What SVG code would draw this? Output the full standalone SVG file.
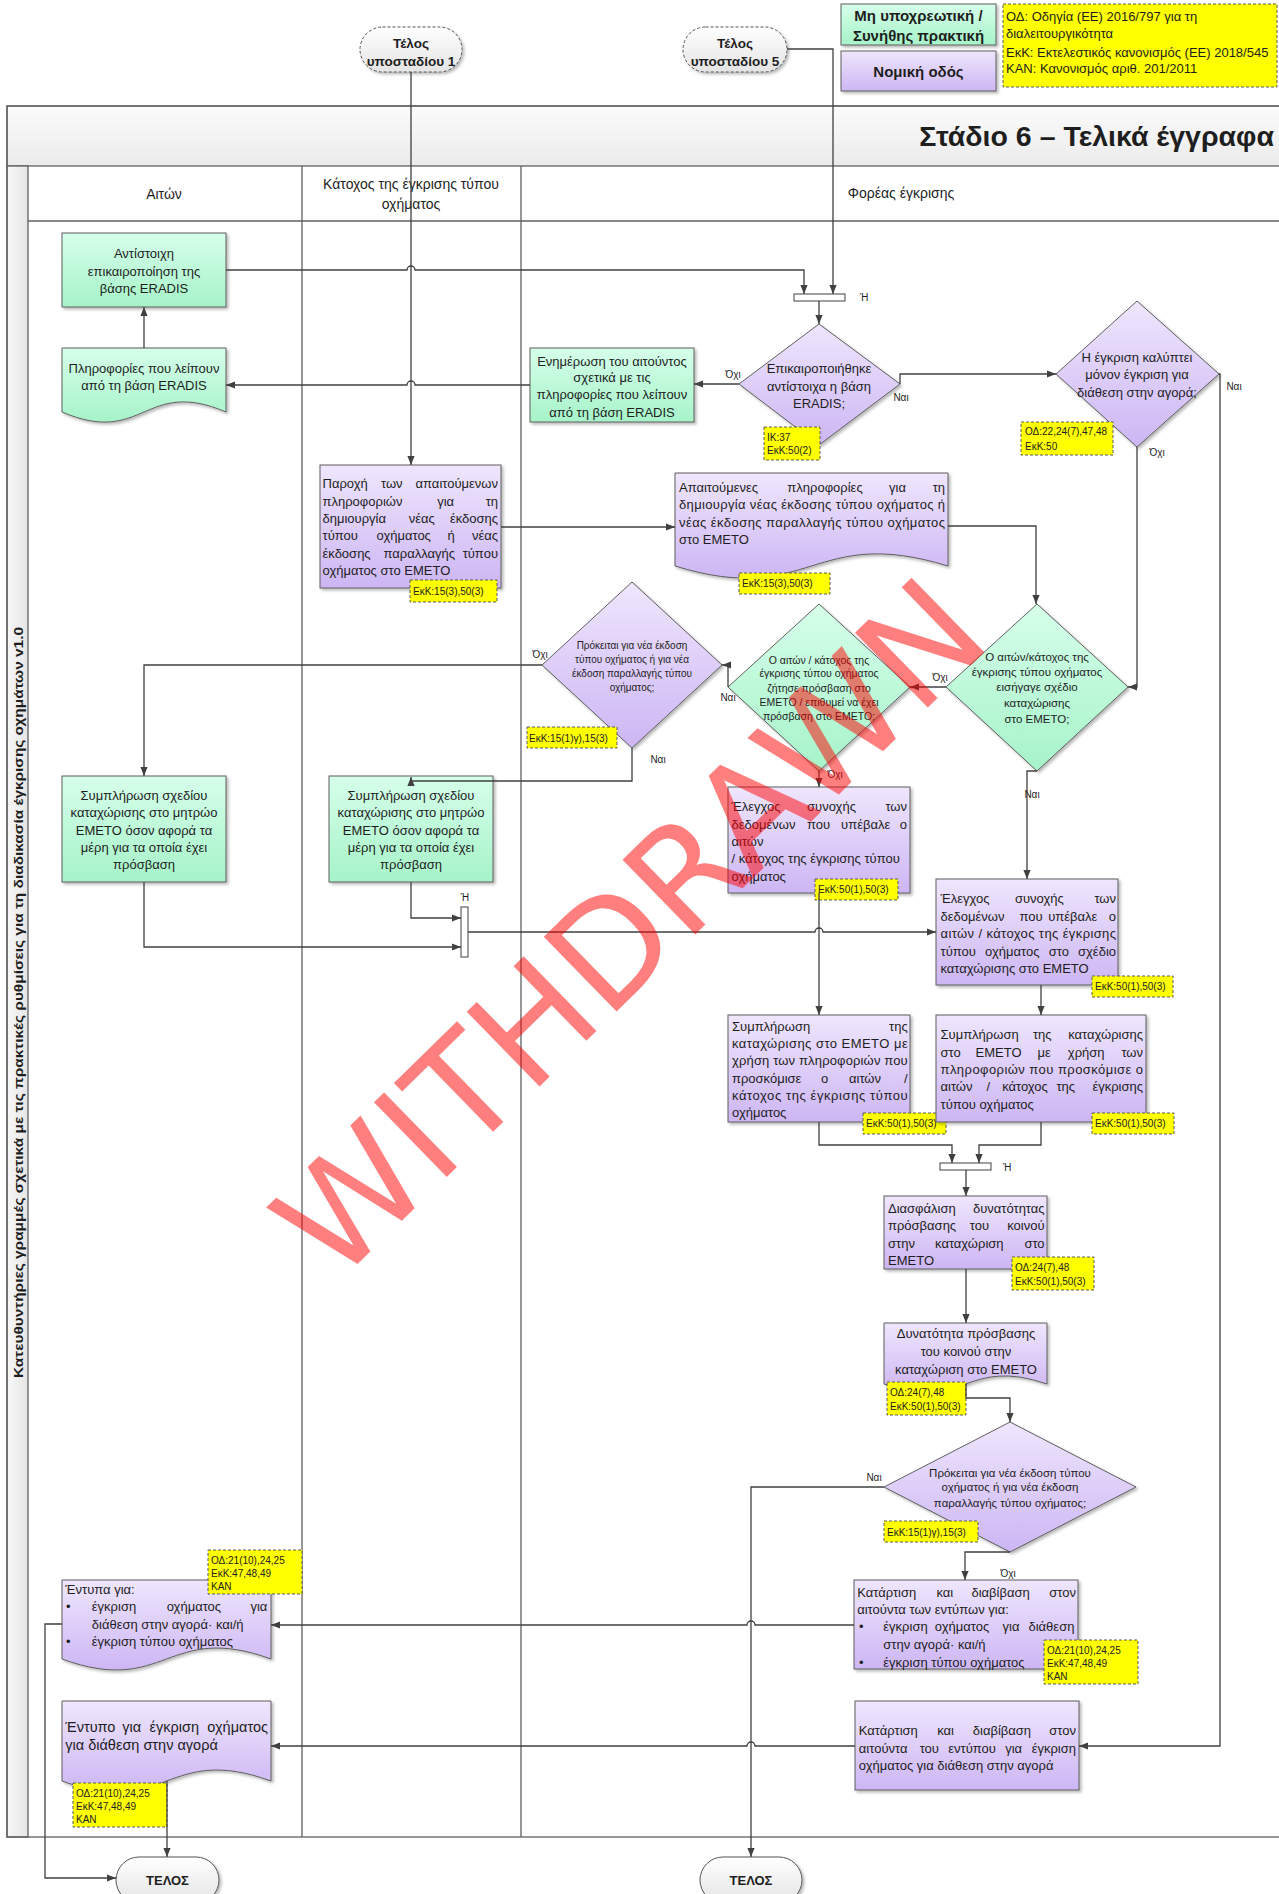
<svg xmlns="http://www.w3.org/2000/svg" width="1279" height="1894" viewBox="0 0 1279 1894">
<defs>
<style>
.t{font-family:"Liberation Sans",Arial,"DejaVu Sans",sans-serif;font-size:13px;fill:#1e1e1e;dominant-baseline:central}
.m{text-anchor:middle}
.e{text-anchor:end}
.b{font-weight:bold}
.s10{font-size:10px}
.s105{font-size:10.5px}
.s11{font-size:11.5px}
.s14{font-size:14px}
.tag rect{fill:#ffff00;stroke:#5a5a5a;stroke-width:1;stroke-dasharray:3 2}
.tag text{font-family:"Liberation Sans",Arial,sans-serif;font-size:10px;fill:#222;dominant-baseline:central}
.g{fill:url(#gg);stroke:#5f5f5f;stroke-width:1;filter:url(#sh)}
.p{fill:url(#gp);stroke:#5f5f5f;stroke-width:1;filter:url(#sh)}
.term{fill:url(#gt);stroke:#555;stroke-width:1;filter:url(#sh)}
.cn path{fill:none;stroke:#404040;stroke-width:1.3;marker-end:url(#ah)}
.lane{stroke:#606060;stroke-width:1.3;fill:none}
.bar{fill:#fff;stroke:#404040;stroke-width:1}
</style>
<linearGradient id="gg" x1="0" y1="0" x2="0" y2="1"><stop offset="0" stop-color="#d6ffea"/><stop offset="1" stop-color="#a6f3c9"/></linearGradient>
<linearGradient id="gp" x1="0" y1="0" x2="0" y2="1"><stop offset="0" stop-color="#efe6fd"/><stop offset="1" stop-color="#cdb6f4"/></linearGradient>
<linearGradient id="gt" x1="0" y1="0" x2="0" y2="1"><stop offset="0" stop-color="#ffffff"/><stop offset="1" stop-color="#e4e4e4"/></linearGradient>
<linearGradient id="gh" x1="0" y1="0" x2="0" y2="1"><stop offset="0" stop-color="#fbfbfb"/><stop offset="1" stop-color="#ebebeb"/></linearGradient>
<linearGradient id="gv" x1="0" y1="0" x2="1" y2="0"><stop offset="0" stop-color="#f7f7f7"/><stop offset="1" stop-color="#e6e6e6"/></linearGradient>
<filter id="sh" x="-10%" y="-10%" width="130%" height="130%"><feDropShadow dx="2" dy="2" stdDeviation="1.5" flood-color="#000" flood-opacity="0.28"/></filter>
<marker id="ah" viewBox="0 0 10 10" refX="10" refY="5" markerWidth="9" markerHeight="9" markerUnits="userSpaceOnUse" orient="auto"><path d="M0,1 L10,5 L0,9 z" fill="#404040"/></marker>
</defs>
<rect x="0" y="0" width="1279" height="1894" fill="#ffffff"/>

<!-- legend -->
<g id="legend">
<rect x="841" y="4" width="155" height="41" class="g"/>
<text class="t m b" style="font-size:15px" x="918.5" y="15">Μη υποχρεωτική /</text>
<text class="t m b" style="font-size:15px" x="918.5" y="35">Συνήθης πρακτική</text>
<rect x="841" y="51" width="155" height="40" class="p"/>
<text class="t m b" style="font-size:15px" x="918.5" y="71">Νομική οδός</text>
<g class="tag"><rect x="1003" y="4" width="274" height="83"/></g>
<text class="t" x="1006" y="16">ΟΔ: Οδηγία (ΕΕ) 2016/797 για τη</text>
<text class="t" x="1006" y="33">διαλειτουργικότητα</text>
<text class="t" x="1006" y="52">ΕκΚ: Εκτελεστικός κανονισμός (ΕΕ) 2018/545</text>
<text class="t" x="1006" y="68">ΚΑΝ: Κανονισμός αριθ. 201/2011</text>
</g>

<!-- pool -->
<g id="pool">
<rect x="7" y="106" width="1290" height="60" fill="url(#gh)" stroke="#606060" stroke-width="1.3"/>
<rect x="7" y="166" width="21" height="1671" fill="url(#gv)" stroke="#606060" stroke-width="1.3"/>
<rect x="7" y="106" width="1290" height="1731" class="lane"/>
<path class="lane" d="M28,221 H1297 M302,166 V1837 M521,166 V1837"/>
<text class="t e b" style="font-size:28.5px" x="1274" y="136">Στάδιο 6 – Τελικά έγγραφα</text>
<text class="t m b" style="font-size:13.5px" x="0" y="0" transform="translate(18,1002.5) rotate(-90)" textLength="751" lengthAdjust="spacingAndGlyphs">Κατευθυντήριες γραμμές σχετικά με τις πρακτικές ρυθμίσεις για τη διαδικασία έγκρισης οχημάτων v1.0</text>
<text class="t m s14" x="164" y="194">Αιτών</text>
<text class="t m s14" x="411" y="184">Κάτοχος της έγκρισης τύπου</text>
<text class="t m s14" x="411" y="204">οχήματος</text>
<text class="t m s14" x="901" y="193">Φορέας έγκρισης</text>
</g>

<!-- terminators -->
<g id="t1">
<rect x="360" y="27" width="102" height="45" rx="22.5" class="term" stroke-dasharray="3 2"/>
<text class="t m b" style="font-size:13.5px" x="411" y="43">Τέλος</text>
<text class="t m b" style="font-size:13.5px" x="411" y="61">υποσταδίου 1</text>
</g>
<g id="t5">
<rect x="683" y="27" width="104" height="45" rx="22.5" class="term" stroke-dasharray="3 2"/>
<text class="t m b" style="font-size:13.5px" x="735" y="43">Τέλος</text>
<text class="t m b" style="font-size:13.5px" x="735" y="61">υποσταδίου 5</text>
</g>
<g id="telos1">
<rect x="116" y="1857" width="103" height="46" rx="23" class="term"/>
<text class="t m b" x="167.5" y="1880">ΤΕΛΟΣ</text>
</g>
<g id="telos2">
<rect x="700" y="1857" width="102" height="46" rx="23" class="term"/>
<text class="t m b" x="751" y="1880">ΤΕΛΟΣ</text>
</g>

<!-- Αιτών lane -->
<g id="n1">
<rect x="62" y="233" width="164" height="74" class="g"/>
<text class="t m" x="144" y="253">Αντίστοιχη</text>
<text class="t m" x="144" y="271">επικαιροποίηση της</text>
<text class="t m" x="144" y="288">βάσης ERADIS</text>
</g>
<g id="n2">
<path d="M62,348 H226 V412 C144,377 144,447 62,412 Z" class="g"/>
<text class="t m" x="144" y="368">Πληροφορίες που λείπουν</text>
<text class="t m" x="144" y="385">από τη βάση ERADIS</text>
</g>
<g id="n3">
<rect x="62" y="776" width="164" height="106" class="g"/>
<text class="t m" x="144" y="795">Συμπλήρωση σχεδίου</text>
<text class="t m" x="144" y="812">καταχώρισης στο μητρώο</text>
<text class="t m" x="144" y="830">ΕΜΕΤΟ όσον αφορά τα</text>
<text class="t m" x="144" y="847">μέρη για τα οποία έχει</text>
<text class="t m" x="144" y="864">πρόσβαση</text>
</g>
<g id="n4">
<path d="M62,1580 H271 V1659 C166.5,1621 166.5,1697 62,1659 Z" class="p"/>
<text class="t" x="65.3" y="1589">Έντυπα για:</text>
<text class="t" x="66" y="1606">•</text>
<text class="t" x="91.8" y="1606">έγκριση</text>
<text class="t m" x="193.9" y="1606">οχήματος</text>
<text class="t e" x="267.3" y="1606">για</text>
<text class="t" x="91.8" y="1624">διάθεση στην αγορά· και/ή</text>
<text class="t" x="66" y="1641">•</text>
<text class="t" x="91.8" y="1641">έγκριση τύπου οχήματος</text>
<g class="tag"><rect x="208" y="1550" width="94" height="44"/>
<text x="211" y="1560">ΟΔ:21(10),24,25</text><text x="211" y="1573">ΕκΚ:47,48,49</text><text x="211" y="1586">ΚΑΝ</text></g>
</g>
<g id="n5">
<path d="M62,1701 H271 V1781 C166.5,1743 166.5,1819 62,1781 Z" class="p"/>
<text class="t" style="font-size:14.5px" x="65.3" y="1727">Έντυπο</text>
<text class="t m" style="font-size:14.5px" x="131.7" y="1727">για</text>
<text class="t m" style="font-size:14.5px" x="174.3" y="1727">έγκριση</text>
<text class="t e" style="font-size:14.5px" x="268" y="1727">οχήματος</text>
<text class="t" style="font-size:14.5px" x="65.3" y="1745">για διάθεση στην αγορά</text>
<g class="tag"><rect x="73" y="1783" width="94" height="44"/>
<text x="76" y="1793">ΟΔ:21(10),24,25</text><text x="76" y="1806">ΕκΚ:47,48,49</text><text x="76" y="1819">ΚΑΝ</text></g>
</g>

<!-- Κάτοχος lane -->
<g id="n6">
<rect x="320" y="465" width="181" height="123" class="p"/>
<text class="t" x="322.5" y="483">Παροχή</text><text class="t m" x="391.8" y="483">των</text><text class="t e" x="498" y="483">απαιτούμενων</text>
<text class="t" x="322.5" y="501">πληροφοριών</text><text class="t m" x="445.7" y="501">για</text><text class="t e" x="498" y="501">τη</text>
<text class="t" x="322.5" y="518">δημιουργία</text><text class="t m" x="421.8" y="518">νέας</text><text class="t e" x="498" y="518">έκδοσης</text>
<text class="t" x="322.5" y="535">τύπου</text><text class="t m" x="403.7" y="535">οχήματος</text><text class="t m" x="451" y="535">ή</text><text class="t e" x="498" y="535">νέας</text>
<text class="t" x="322.5" y="553">έκδοσης</text><text class="t m" x="419.3" y="553">παραλλαγής</text><text class="t e" x="498" y="553">τύπου</text>
<text class="t" x="322.5" y="570">οχήματος στο ΕΜΕΤΟ</text>
<g class="tag"><rect x="410" y="580" width="87" height="22"/><text x="413" y="591">ΕκΚ:15(3),50(3)</text></g>
</g>
<g id="n7">
<rect x="329" y="776" width="164" height="106" class="g"/>
<text class="t m" x="411" y="795">Συμπλήρωση σχεδίου</text>
<text class="t m" x="411" y="812">καταχώρισης στο μητρώο</text>
<text class="t m" x="411" y="830">ΕΜΕΤΟ όσον αφορά τα</text>
<text class="t m" x="411" y="847">μέρη για τα οποία έχει</text>
<text class="t m" x="411" y="864">πρόσβαση</text>
</g>

<!-- Φορέας lane -->
<g id="n11">
<rect x="530" y="348" width="164" height="74" class="g"/>
<text class="t m" x="612" y="361">Ενημέρωση του αιτούντος</text>
<text class="t m" x="612" y="377">σχετικά με τις</text>
<text class="t m" x="612" y="394">πληροφορίες που λείπουν</text>
<text class="t m" x="612" y="412">από τη βάση ERADIS</text>
</g>
<g id="n10">
<polygon points="739,384 819,324 900,384 819,445" class="p"/>
<text class="t m" x="819" y="368">Επικαιροποιήθηκε</text>
<text class="t m" x="819" y="386">αντίστοιχα η βάση</text>
<text class="t m" x="819" y="403">ERADIS;</text>
<g class="tag"><rect x="764" y="427" width="56" height="33"/><text x="767" y="437">ΙΚ:37</text><text x="767" y="450">ΕκΚ:50(2)</text></g>
</g>
<g id="n12">
<polygon points="1056,374 1137,301 1219,374 1137,447" class="p"/>
<text class="t m" x="1137" y="357">Η έγκριση καλύπτει</text>
<text class="t m" x="1137" y="374">μόνον έγκριση για</text>
<text class="t m" x="1137" y="392">διάθεση στην αγορά;</text>
<g class="tag"><rect x="1021" y="422" width="92" height="33"/><text x="1025" y="431">ΟΔ:22,24(7),47,48</text><text x="1025" y="446">ΕκΚ:50</text></g>
</g>
<g id="n13">
<path d="M675,473 H948 V566 C811.5,524 811.5,608 675,566 Z" class="p"/>
<text class="t" x="679" y="487">Απαιτούμενες</text><text class="t m" x="825" y="487">πληροφορίες</text><text class="t m" x="897.5" y="487">για</text><text class="t e" x="945" y="487">τη</text>
<text class="t" x="679" y="504" textLength="266" lengthAdjust="spacing">δημιουργία νέας έκδοσης τύπου οχήματος ή</text>
<text class="t" x="679" y="522" textLength="266" lengthAdjust="spacing">νέας έκδοσης παραλλαγής τύπου οχήματος</text>
<text class="t" x="679" y="539">στο ΕΜΕΤΟ</text>
<g class="tag"><rect x="739" y="573" width="91" height="21"/><text x="742" y="583.5">ΕκΚ:15(3),50(3)</text></g>
</g>
<g id="n16">
<polygon points="542,665 632,582 722,665 632,748" class="p"/>
<text class="t m s10" x="632" y="645">Πρόκειται για νέα έκδοση</text>
<text class="t m s10" x="632" y="659">τύπου οχήματος ή για νέα</text>
<text class="t m s10" x="632" y="673">έκδοση παραλλαγής τύπου</text>
<text class="t m s10" x="632" y="687">οχήματος;</text>
<g class="tag"><rect x="527" y="727" width="90" height="21"/><text x="529" y="738">ΕκΚ:15(1)γ),15(3)</text></g>
</g>
<g id="n15">
<polygon points="728,687 819,604 910,687 819,771" class="g"/>
<text class="t m s105" x="819" y="660">Ο αιτών / κάτοχος της</text>
<text class="t m s105" x="819" y="673">έγκρισης τύπου οχήματος</text>
<text class="t m s105" x="819" y="688">ζήτησε πρόσβαση στο</text>
<text class="t m s105" x="819" y="702">ΕΜΕΤΟ / επιθυμεί να έχει</text>
<text class="t m s105" x="819" y="716">πρόσβαση στο ΕΜΕΤΟ;</text>
</g>
<g id="n14">
<polygon points="946,687 1037,604 1128,687 1037,771" class="g"/>
<text class="t m s11" x="1037" y="657">Ο αιτών/κάτοχος της</text>
<text class="t m s11" x="1037" y="672">έγκρισης τύπου οχήματος</text>
<text class="t m s11" x="1037" y="687">εισήγαγε σχέδιο</text>
<text class="t m s11" x="1037" y="703">καταχώρισης</text>
<text class="t m s11" x="1037" y="719">στο ΕΜΕΤΟ;</text>
</g>
<g id="n17">
<rect x="728" y="787" width="182" height="106" class="p"/>
<text class="t" x="731.5" y="806">Έλεγχος</text><text class="t m" x="831.5" y="806">συνοχής</text><text class="t e" x="907" y="806">των</text>
<text class="t" x="731.5" y="824">δεδομένων</text><text class="t m" x="818.5" y="824">που</text><text class="t m" x="865.7" y="824">υπέβαλε</text><text class="t e" x="907" y="824">ο</text>
<text class="t" x="731.5" y="841">αιτών</text>
<text class="t" x="731.5" y="858">/ κάτοχος της έγκρισης τύπου</text>
<text class="t" x="731.5" y="876">οχήματος</text>
<g class="tag"><rect x="815" y="879" width="83" height="21"/><text x="818" y="889.5">ΕκΚ:50(1),50(3)</text></g>
</g>
<g id="n18">
<rect x="936" y="879" width="182" height="106" class="p"/>
<text class="t" x="940.5" y="898">Έλεγχος</text><text class="t m" x="1039.3" y="898">συνοχής</text><text class="t e" x="1116" y="898">των</text>
<text class="t" x="940.5" y="916">δεδομένων</text><text class="t m" x="1031" y="916">που</text><text class="t m" x="1072.8" y="916">υπέβαλε</text><text class="t e" x="1116" y="916">ο</text>
<text class="t" x="940.5" y="933" textLength="175.5" lengthAdjust="spacing">αιτών / κάτοχος της έγκρισης</text>
<text class="t" x="940.5" y="951">τύπου</text><text class="t m" x="1012.3" y="951">οχήματος</text><text class="t m" x="1058.8" y="951">στο</text><text class="t e" x="1116" y="951">σχέδιο</text>
<text class="t" x="940.5" y="968">καταχώρισης στο ΕΜΕΤΟ</text>
<g class="tag"><rect x="1092" y="976" width="81" height="21"/><text x="1095" y="986.5">ΕκΚ:50(1),50(3)</text></g>
</g>
<g id="n19">
<rect x="728" y="1015" width="182" height="107" class="p"/>
<text class="t" x="732" y="1026">Συμπλήρωση</text><text class="t e" x="907.7" y="1026">της</text>
<text class="t" x="732" y="1043" textLength="175.7" lengthAdjust="spacing">καταχώρισης στο ΕΜΕΤΟ με</text>
<text class="t" x="732" y="1060" textLength="175.7" lengthAdjust="spacing">χρήση των πληροφοριών που</text>
<text class="t" x="732" y="1078">προσκόμισε</text><text class="t m" x="824.6" y="1078">ο</text><text class="t m" x="865" y="1078">αιτών</text><text class="t e" x="907.7" y="1078">/</text>
<text class="t" x="732" y="1095" textLength="175.7" lengthAdjust="spacing">κάτοχος της έγκρισης τύπου</text>
<text class="t" x="732" y="1112">οχήματος</text>
<g class="tag"><rect x="863" y="1113" width="83" height="21"/><text x="866" y="1123.5">ΕκΚ:50(1),50(3)</text></g>
</g>
<g id="n20">
<rect x="936" y="1015" width="210" height="107" class="p"/>
<text class="t" x="940.5" y="1034">Συμπλήρωση</text><text class="t m" x="1042.2" y="1034">της</text><text class="t e" x="1143" y="1034">καταχώρισης</text>
<text class="t" x="940.5" y="1052">στο</text><text class="t m" x="998.6" y="1052">ΕΜΕΤΟ</text><text class="t m" x="1044.2" y="1052">με</text><text class="t m" x="1086.2" y="1052">χρήση</text><text class="t e" x="1143" y="1052">των</text>
<text class="t" x="940.5" y="1069" textLength="202.5" lengthAdjust="spacing">πληροφοριών που προσκόμισε ο</text>
<text class="t" x="940.5" y="1086">αιτών</text><text class="t m" x="988.4" y="1086">/</text><text class="t m" x="1025" y="1086">κάτοχος</text><text class="t m" x="1065.8" y="1086">της</text><text class="t e" x="1143" y="1086">έγκρισης</text>
<text class="t" x="940.5" y="1104">τύπου οχήματος</text>
<g class="tag"><rect x="1092" y="1113" width="82" height="21"/><text x="1095" y="1123.5">ΕκΚ:50(1),50(3)</text></g>
</g>
<g id="n21">
<rect x="884" y="1196" width="163" height="73" class="p"/>
<text class="t" x="888" y="1208">Διασφάλιση</text><text class="t e" x="1044.6" y="1208">δυνατότητας</text>
<text class="t" x="888" y="1225">πρόσβασης</text><text class="t m" x="979.4" y="1225">του</text><text class="t e" x="1044.6" y="1225">κοινού</text>
<text class="t" x="888" y="1243">στην</text><text class="t m" x="969.3" y="1243">καταχώριση</text><text class="t e" x="1044.6" y="1243">στο</text>
<text class="t" x="888" y="1260">ΕΜΕΤΟ</text>
<g class="tag"><rect x="1012" y="1257" width="82" height="33"/><text x="1015" y="1267">ΟΔ:24(7),48</text><text x="1015" y="1281">ΕκΚ:50(1),50(3)</text></g>
</g>
<g id="n22">
<path d="M884,1323 H1047 V1384 C965.5,1356 965.5,1412 884,1384 Z" class="p"/>
<text class="t m" x="966" y="1333">Δυνατότητα πρόσβασης</text>
<text class="t m" x="966" y="1351">του κοινού στην</text>
<text class="t m" x="966" y="1369">καταχώριση στο ΕΜΕΤΟ</text>
<g class="tag"><rect x="887" y="1382" width="79" height="33"/><text x="890" y="1392">ΟΔ:24(7),48</text><text x="890" y="1406">ΕκΚ:50(1),50(3)</text></g>
</g>
<g id="n23">
<polygon points="884,1487 1010,1422 1136,1487 1010,1552" class="p"/>
<text class="t m s11" x="1010" y="1473">Πρόκειται για νέα έκδοση τύπου</text>
<text class="t m s11" x="1010" y="1487">οχήματος ή για νέα έκδοση</text>
<text class="t m s11" x="1010" y="1503">παραλλαγής τύπου οχήματος;</text>
<g class="tag"><rect x="884" y="1521" width="94" height="21"/><text x="887" y="1532">ΕκΚ:15(1)γ),15(3)</text></g>
</g>
<g id="n24">
<rect x="854" y="1580" width="224" height="89" class="p"/>
<text class="t" x="857.2" y="1592">Κατάρτιση</text><text class="t m" x="944.8" y="1592">και</text><text class="t m" x="1000.6" y="1592">διαβίβαση</text><text class="t e" x="1076" y="1592">στον</text>
<text class="t" x="857.2" y="1609">αιτούντα των εντύπων για:</text>
<text class="t" x="859" y="1626">•</text><text class="t" x="883.3" y="1626">έγκριση</text><text class="t m" x="962" y="1626">οχήματος</text><text class="t m" x="1011" y="1626">για</text><text class="t e" x="1074.4" y="1626">διάθεση</text>
<text class="t" x="883.3" y="1644">στην αγορά· και/ή</text>
<text class="t" x="859" y="1662">•</text><text class="t" x="883.3" y="1662">έγκριση τύπου οχήματος</text>
<g class="tag"><rect x="1044" y="1640" width="94" height="44"/><text x="1047" y="1650">ΟΔ:21(10),24,25</text><text x="1047" y="1663">ΕκΚ:47,48,49</text><text x="1047" y="1676">ΚΑΝ</text></g>
</g>
<g id="n25">
<rect x="855" y="1701" width="224" height="89" class="p"/>
<text class="t" x="858.8" y="1730">Κατάρτιση</text><text class="t m" x="945.6" y="1730">και</text><text class="t m" x="1001.9" y="1730">διαβίβαση</text><text class="t e" x="1076" y="1730">στον</text>
<text class="t" x="858.8" y="1748">αιτούντα</text><text class="t m" x="929.3" y="1748">του</text><text class="t m" x="972.1" y="1748">εντύπου</text><text class="t m" x="1013.7" y="1748">για</text><text class="t e" x="1076" y="1748">έγκριση</text>
<text class="t" x="858.8" y="1765">οχήματος για διάθεση στην αγορά</text>
</g>

<!-- junction bars -->
<g id="bars">
<rect x="794" y="294" width="51" height="7" class="bar"/>
<text class="t s10" x="860" y="297">Ή</text>
<rect x="461" y="907" width="7" height="50" class="bar"/>
<text class="t m s10" x="465" y="897">Ή</text>
<rect x="940" y="1163" width="51" height="7" class="bar"/>
<text class="t s10" x="1003" y="1167">Ή</text>
</g>

<!-- connectors -->
<g id="connectors" class="cn">
<path d="M411,72 V465"/>
<path d="M787,49 H833 V294"/>
<path d="M226,270 H407 A4,4 0 0 1 415,270 H804 V294"/>
<path d="M819,301 V324"/>
<path d="M739,384 H694"/>
<path d="M530,385 H415 A4,4 0 0 0 407,385 H226"/>
<path d="M144,348 V307"/>
<path d="M900,384 V374 H1056"/>
<path d="M1219,374 H1220 V1746 H1079"/>
<path d="M1137,447 V687 H1128"/>
<path d="M501,527 H675"/>
<path d="M948,526 H1036 V604"/>
<path d="M946,687 H910"/>
<path d="M1037,771 H1027 V879"/>
<path d="M728,687 V665 H722"/>
<path d="M819,771 V787"/>
<path d="M542,665 H144 V776"/>
<path d="M632,748 V781 H411 V777"/>
<path d="M411,882 V918 H461"/>
<path d="M144,882 V947 H461"/>
<path d="M468,932 H815 A4,4 0 0 1 823,932 H936"/>
<path d="M819,893 V1015"/>
<path d="M1041,985 V1015"/>
<path d="M819,1122 V1145 H952 V1163"/>
<path d="M1041,1122 V1145 H979 V1163"/>
<path d="M966,1170 V1196"/>
<path d="M966,1269 V1323"/>
<path d="M966,1384 V1398 H1010 V1422"/>
<path d="M884,1487 H751 V1857"/>
<path d="M1010,1552 H965 V1580"/>
<path d="M854,1625 H755 A4,4 0 0 0 747,1625 H271"/>
<path d="M855,1746 H755 A4,4 0 0 0 747,1746 H271"/>
<path d="M167,1781 V1857"/>
<path d="M62,1624 H45 V1878 H116"/>
</g>

<!-- connector labels -->
<g id="labels">
<text class="t m s10" x="733" y="374">Όχι</text>
<text class="t m s10" x="901" y="397">Ναι</text>
<text class="t m s10" x="1234" y="386">Ναι</text>
<text class="t m s10" x="1157" y="452">Όχι</text>
<text class="t m s10" x="940" y="677">Όχι</text>
<text class="t m s10" x="1032" y="794">Ναι</text>
<text class="t m s10" x="728" y="697">Ναι</text>
<text class="t m s10" x="835" y="774">Όχι</text>
<text class="t m s10" x="540" y="654">Όχι</text>
<text class="t m s10" x="658" y="759">Ναι</text>
<text class="t m s10" x="874" y="1477">Ναι</text>
<text class="t m s10" x="1008" y="1573">Όχι</text>
</g>

<!-- watermark -->
<text x="665" y="964" transform="rotate(-44.3 665 964)" font-family="DejaVu Sans, sans-serif" font-size="143" fill="#ff0000" fill-opacity="0.5" text-anchor="middle">WITHDRAWN</text>
</svg>
